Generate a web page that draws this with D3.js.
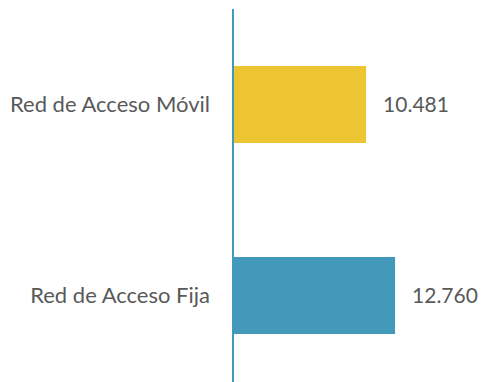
<!DOCTYPE html>
<html>
<head>
<meta charset="utf-8">
<script src="https://cdn.jsdelivr.net/npm/d3@7"></script>
<style>
  html, body { margin: 0; padding: 0; background: #fff; }
  svg { display: block; }
</style>
</head>
<body>
<svg id="chart" width="481" height="382"></svg>
<script>
// Network access categories and their totals
const categories = ["Red de Acceso Móvil", "Red de Acceso Fija"];
const values = [10481, 12760];
const barColors = ["#EDC532", "#4399BA"];

const svg = d3.select("#chart");
const W = 481, H = 382;

const esLocale = d3.formatLocale({ decimal: ",", thousands: ".", grouping: [3], currency: ["", " €"] });
const fmt = esLocale.format(",d");

const x = d3.scaleLinear().domain([0, 14000]).range([233, 410.8]);
const y = d3.scaleBand()
  .domain(categories)
  .range([9, 391])
  .paddingInner(0.597)
  .paddingOuter(0.2985);

const data = categories.map((c, i) => ({ cat: c, value: values[i], color: barColors[i] }));

// bars
svg.append("g").selectAll("rect")
  .data(data)
  .join("rect")
  .attr("x", x(0))
  .attr("y", d => y(d.cat))
  .attr("width", d => x(d.value) - x(0))
  .attr("height", y.bandwidth())
  .attr("fill", d => d.color);

// category axis (left), tick marks hidden
const yAxis = svg.append("g")
  .attr("transform", `translate(${x(0)},0)`)
  .call(d3.axisLeft(y).tickSize(0).tickPadding(23));
yAxis.select(".domain").remove();
yAxis.selectAll("text")
  .attr("font-family", "Lato, 'Open Sans', sans-serif")
  .attr("font-size", 22)
  .attr("fill", "#595959")
  .attr("dy", "0.35em");

// vertical axis line
svg.append("line")
  .attr("x1", x(0)).attr("x2", x(0))
  .attr("y1", 9).attr("y2", H + 10)
  .attr("stroke", "#4399BA")
  .attr("stroke-width", 2);

// value labels
svg.append("g").selectAll("text")
  .data(data)
  .join("text")
  .attr("x", d => x(d.value) + 17)
  .attr("y", d => y(d.cat) + y.bandwidth() / 2)
  .attr("dy", "0.35em")
  .attr("font-family", "Lato, 'Open Sans', sans-serif")
  .attr("font-size", 21)
  .attr("fill", "#595959")
  .text(d => fmt(d.value));
</script>
</body>
</html>
